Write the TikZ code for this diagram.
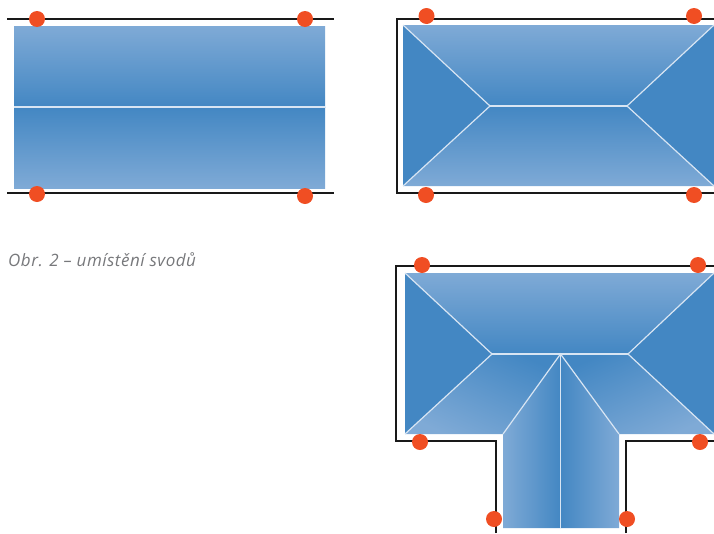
\documentclass[tikz,border=0pt]{standalone}
\usepackage{fontspec}
\setmainfont{Open Sans}[LetterSpace=3]
\definecolor{roofdark}{HTML}{4387C3}
\definecolor{rooflight}{HTML}{7FAAD6}
\definecolor{roofmid}{HTML}{6A9DD0}
\definecolor{pipedot}{HTML}{F04E23}
\definecolor{captiongray}{HTML}{77787B}
\tikzset{
  gutter/.style={line width=2pt,black!90},
  ridge/.style={line width=1.2pt,white!70!rooflight},
  slopedown/.style={top color=rooflight,middle color=roofmid,bottom color=roofdark},
  slopeup/.style={top color=roofdark,middle color=roofmid,bottom color=rooflight},
  caption/.style={font=\itshape\fontsize{17}{20}\selectfont,text=captiongray,anchor=base west,inner sep=0pt}
}
\begin{document}
\begin{tikzpicture}[x=1pt,y=-1pt]
    \useasboundingbox (0,0) rectangle (714,533);

    % gable roof
    \draw[gutter] (7,19) -- (334,19);
    \draw[gutter] (7,193) -- (334,193);
    \shade[slopedown] (14,26) rectangle (325,107);
    \shade[slopeup] (14,107) rectangle (325,188);
    \draw[ridge] (14,107) -- (325,107);

    % hip roof
    \draw[gutter] (714,19) -- (397,19) -- (397,193) -- (714,193);
    \fill[roofdark] (403,25) -- (490,106) -- (403,186) -- cycle;
    \fill[roofdark] (714,25) -- (627,106) -- (714,186) -- cycle;
    \shade[slopedown] (403,25) -- (714,25) -- (627,106) -- (490,106) -- cycle;
    \shade[slopeup] (403,186) -- (714,186) -- (627,106) -- (490,106) -- cycle;
    \draw[ridge] (403,25) -- (490,106) -- (403,186);
    \draw[ridge] (714,25) -- (627,106) -- (714,186);
    \draw[ridge] (490,106) -- (627,106);

    % T roof
    \draw[gutter] (496,533) -- (496,441) -- (396,441) -- (396,266) -- (714,266);
    \draw[gutter] (626,533) -- (626,441) -- (714,441);
    \fill[roofdark] (405,273) -- (492,354) -- (405,434) -- cycle;
    \fill[roofdark] (714,273) -- (628,354) -- (714,434) -- cycle;
    \shade[slopedown] (405,273) -- (714,273) -- (628,354) -- (492,354) -- cycle;
    \shade[top color=roofdark,middle color=roofdark,bottom color=rooflight,shading angle=-25]
      (405,434) -- (492,354) -- (560.5,354) -- (503,434) -- cycle;
    \shade[top color=roofdark,middle color=roofdark,bottom color=rooflight,shading angle=25]
      (714,434) -- (628,354) -- (560.5,354) -- (619,434) -- cycle;
    \shade[left color=rooflight,middle color=roofmid,right color=roofdark] (503,434) -- (560.5,354) -- (560.5,528) -- (503,528) -- cycle;
    \shade[left color=roofdark,middle color=roofmid,right color=rooflight] (619,434) -- (560.5,354) -- (560.5,528) -- (619,528) -- cycle;
    \draw[ridge] (405,273) -- (492,354) -- (405,434);
    \draw[ridge] (714,273) -- (628,354) -- (714,434);
    \draw[ridge] (492,354) -- (628,354);
    \draw[ridge] (503,434) -- (560.5,354) -- (619,434);
    \draw[ridge] (560.5,354) -- (560.5,528);

    % downpipes
    \foreach \px/\py in {37/19,305/19,37/194,305/196,
                         426.5/16,694/16,426/195,694/195,
                         422/265,698/265,420/442,700/442,494/519,627/519}
      \fill[pipedot] (\px,\py) circle (8);

    \node[caption] (cap) at (8,266) {Obr. 2 – umístění svodů};
\end{tikzpicture}
\end{document}
